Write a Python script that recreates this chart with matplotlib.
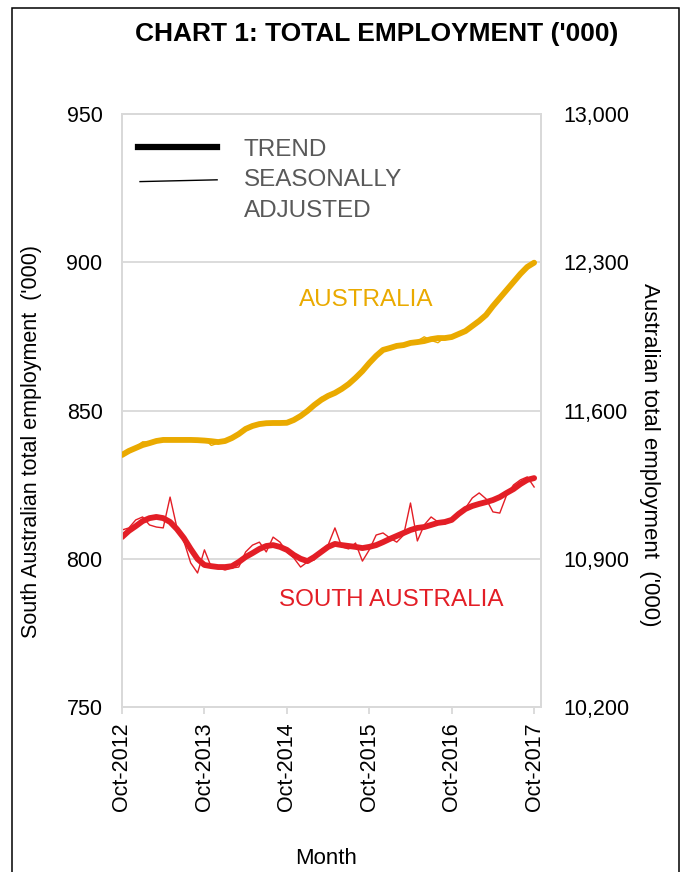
import numpy as np
import matplotlib
matplotlib.use("Agg")
import matplotlib.pyplot as plt
from matplotlib.patches import Rectangle

plt.rcParams['font.family'] = ['Liberation Sans', 'DejaVu Sans']

# months since Oct-2012 (0 = Oct-2012, 60 = Oct-2017)
months = np.arange(61)
tick_pos = [0, 12, 24, 36, 48, 60]
tick_labels = ["Oct-2012", "Oct-2013", "Oct-2014", "Oct-2015", "Oct-2016", "Oct-2017"]

# South Australia ('000)
sa_trend = [807.3, 809.4, 811.0, 812.7, 813.7, 814.1, 813.7, 812.4, 810.0, 807.0,
            803.3, 799.9, 797.9, 797.5, 797.2, 797.2, 797.5, 798.9, 800.6, 801.9,
            803.3, 804.3, 804.6, 804.0, 803.0, 801.3, 800.0, 799.2, 800.6, 802.3,
            804.0, 805.0, 804.6, 804.3, 804.0, 803.6, 804.0, 804.6, 805.6, 806.7,
            807.7, 808.7, 809.7, 810.4, 810.7, 811.4, 812.1, 812.4, 813.1, 815.1,
            816.8, 817.8, 818.5, 819.1, 819.8, 820.8, 822.2, 823.5, 825.2, 826.6,
            827.2]
sa_seas = [809.7, 810.4, 813.1, 814.1, 811.4, 810.7, 810.4, 820.8, 810.4, 806.0,
           798.6, 795.2, 803.0, 797.2, 796.9, 796.2, 796.9, 797.2, 802.3, 804.6,
           805.6, 802.3, 807.3, 805.6, 802.3, 800.3, 797.2, 798.9, 799.6, 803.0,
           804.6, 810.4, 804.0, 803.3, 805.3, 799.2, 803.0, 808.0, 808.7, 807.0,
           805.6, 808.0, 818.8, 806.0, 811.4, 814.1, 812.4, 811.7, 813.1, 815.8,
           817.1, 820.5, 822.2, 820.2, 815.8, 815.4, 821.5, 824.9, 826.6, 827.6,
           824.2]

# Australia ('000)
au_trend = [11390, 11409, 11423, 11437, 11446, 11456, 11461, 11461, 11461, 11461,
            11461, 11460, 11458, 11455, 11451, 11456, 11470, 11489, 11513, 11527,
            11536, 11540, 11541, 11541, 11542, 11555, 11574, 11598, 11626, 11650,
            11669, 11683, 11702, 11725, 11754, 11786, 11824, 11858, 11886, 11895,
            11905, 11909, 11919, 11923, 11928, 11937, 11942, 11942, 11947, 11961,
            11975, 11999, 12023, 12051, 12093, 12131, 12169, 12207, 12245, 12278,
            12298]
au_seas = [11390, 11399, 11428, 11452, 11451, 11451, 11464, 11461, 11458, 11463,
           11461, 11466, 11466, 11435, 11446, 11461, 11467, 11499, 11521, 11523,
           11539, 11538, 11541, 11544, 11537, 11559, 11582, 11593, 11626, 11662,
           11661, 11683, 11708, 11728, 11748, 11794, 11834, 11854, 11891, 11892,
           11909, 11909, 11915, 11928, 11948, 11931, 11920, 11946, 11950, 11959,
           11983, 11995, 12028, 12048, 12099, 12127, 12169, 12212, 12240, 12281,
           12302]

gold = '#EAAA00'
red = '#E31E26'
grey = '#D9D9D9'

fig = plt.figure(figsize=(6.81, 8.72), dpi=100)
ax = fig.add_axes([122/681, 1-707/872, 419/681, 593/872])
ax2 = ax.twinx()

ax2.plot(months, au_seas, color=gold, lw=1.0, zorder=2)
ax2.plot(months, au_trend, color=gold, lw=4.2, solid_capstyle='round', zorder=3)
ax2.set_ylim(10200, 13000)
ax2.set_yticks([10200, 10900, 11600, 12300, 13000])
ax2.set_yticklabels(["10,200", "10,900", "11,600", "12,300", "13,000"])

ax.plot(months, sa_seas, color=red, lw=1.0, zorder=2)
ax.plot(months, sa_trend, color=red, lw=4.2, solid_capstyle='round', zorder=3)
ax.set_ylim(750, 950)
ax.set_yticks([750, 800, 850, 900, 950])
ax.set_xlim(0, 61)
ax.set_xticks(tick_pos)
ax.set_xticklabels(tick_labels, rotation=90)
ax.grid(axis='y', color=grey, lw=1.3)
ax.set_axisbelow(True)

for a in (ax, ax2):
    for s in a.spines.values():
        s.set_color(grey)
        s.set_linewidth(1.3)
ax.tick_params(axis='y', length=0, pad=14, labelsize=15.5)
ax.tick_params(axis='x', length=5, width=1.3, color=grey, pad=6, labelsize=15.5)
ax2.tick_params(axis='y', length=0, pad=16, labelsize=15.5)

ax.set_ylabel("South Australian total employment  ('000)", fontsize=15.5, va='center')
ax.yaxis.set_label_coords(-0.215, 0.447)
ax2.set_ylabel("Australian total employment  ('000)", fontsize=16, rotation=270, va='center')
ax2.yaxis.set_label_coords(1.26, 0.425)
ax.set_xlabel("Month", fontsize=16, va='center')
ax.xaxis.set_label_coords(0.487, -0.256)

# series labels
ax.text(0.582, 0.686, "AUSTRALIA", transform=ax.transAxes, color=gold,
        fontsize=17.5, ha='center', va='center')
ax.text(0.642, 0.180, "SOUTH AUSTRALIA", transform=ax.transAxes, color=red,
        fontsize=17.5, ha='center', va='center')

# legend drawn by hand
ax.plot([0.038, 0.227], [0.944, 0.944], transform=ax.transAxes, color='black', lw=4.5)
ax.plot([0.043, 0.227], [0.886, 0.889], transform=ax.transAxes, color='black', lw=1.0)
leg_col = '#595959'
ax.text(0.291, 0.939, "TREND", transform=ax.transAxes, color=leg_col, fontsize=17.5, va='center')
ax.text(0.291, 0.888, "SEASONALLY", transform=ax.transAxes, color=leg_col, fontsize=17.5, va='center')
ax.text(0.291, 0.836, "ADJUSTED", transform=ax.transAxes, color=leg_col, fontsize=17.5, va='center')

fig.text(377/681, 1-34/872, "CHART 1: TOTAL EMPLOYMENT ('000)", fontsize=19,
         fontweight='bold', ha='center', va='center')

fig.add_artist(Rectangle((12/681, -0.05), 667/681, 1.05 - 8/872, transform=fig.transFigure,
                         fill=False, edgecolor='black', lw=1.1))

fig.savefig("out.png", dpi=100)
